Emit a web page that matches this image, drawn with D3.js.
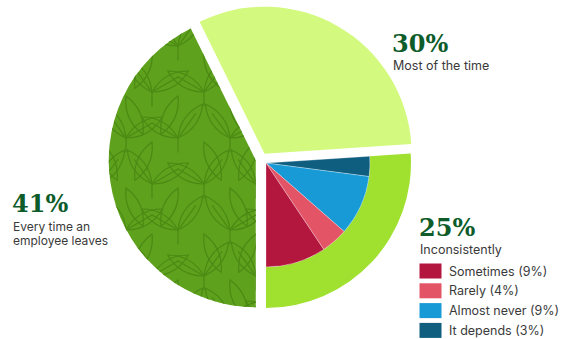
<!DOCTYPE html>
<html>
<head>
<meta charset="utf-8">
<script src="https://cdn.jsdelivr.net/npm/d3@7"></script>
<style>
  body { margin: 0; background: #fff; }
  .pct { font-family: "DejaVu Serif", serif; font-weight: bold; fill: #0d5c2a; }
  .lbl { font-family: Inter, "Noto Sans", sans-serif; fill: #3a3a3a; }
</style>
</head>
<body>
<svg id="chart" width="570" height="339"></svg>
<script>
// Main answer shares (percent)
const categories = ["Inconsistently", "Every time an employee leaves", "Most of the time"];
const shares = [25, 41, 30];
const pctLabels = ["25%", "41%", "30%"];

// Breakdown of "Inconsistently", drawn clockwise inside its slice
const breakdownLabels = ["It depends", "Almost never", "Rarely", "Sometimes"];
const breakdownValues = [3, 9, 4, 9];

// Legend order
const legendOrder = ["Sometimes", "Rarely", "Almost never", "It depends"];

const sliceColors = ["#a0e02f", "#5ea11c", "#d4f97f"];
const breakdownColors = {
  "Sometimes": "#b3173e",
  "Rarely": "#e35466",
  "Almost never": "#179ad6",
  "It depends": "#0f5e80"
};

const svg = d3.select("#chart");
const cx = 261.6, cy = 158.9;
const explode = 6;
const outerR = [145, 147, 147];
const ringInner = 104;

// The "Inconsistently" slice ends exactly at 6 o'clock
const total = d3.sum(shares);
const start = Math.PI - shares[0] / total * 2 * Math.PI;
const pie = d3.pie().sort(null).value(d => d).startAngle(start).endAngle(start + 2 * Math.PI);
const arcs = pie(shares);

const offset = a => {
  const m = (a.startAngle + a.endAngle) / 2;
  return [cx + explode * Math.sin(m), cy - explode * Math.cos(m)];
};

const defs = svg.append("defs");

// Clip for the leaf texture on the large slice
const leftArc = arcs[1];
const [lx, ly] = offset(leftArc);
const leftPath = d3.arc().innerRadius(0).outerRadius(outerR[1])(leftArc);
defs.append("clipPath").attr("id", "leftClip")
  .append("path").attr("d", leftPath).attr("transform", `translate(${lx},${ly})`);

// Slices
arcs.forEach((a, i) => {
  const [ox, oy] = offset(a);
  const g = svg.append("g").attr("transform", `translate(${ox},${oy})`);
  const inner = i === 0 ? ringInner : 0;
  g.append("path")
    .attr("d", d3.arc().innerRadius(inner).outerRadius(outerR[i])(a))
    .attr("fill", sliceColors[i]);
  if (i === 0) {
    const sub = d3.pie().sort(null).value(d => d).startAngle(a.startAngle).endAngle(a.endAngle)(breakdownValues);
    g.selectAll("path.sub").data(sub).join("path")
      .attr("class", "sub")
      .attr("d", d3.arc().innerRadius(0).outerRadius(ringInner))
      .attr("fill", (d, j) => breakdownColors[breakdownLabels[j]])
      .attr("stroke", "rgba(255,255,255,0.6)")
      .attr("stroke-width", 0.5);
  }
});

// Leaf texture: branching leaf outlines over the large slice
const leafG = svg.append("g").attr("clip-path", "url(#leftClip)")
  .attr("fill", "none").attr("stroke", "#4b8914").attr("stroke-width", 1.2)
  .attr("stroke-linecap", "round");
const L = 42, W = 12;
const leafD = `M0,0Q${W},${-L / 2} 0,${-L}Q${-W},${-L / 2} 0,0Z`;
const stepX = 52, stepY = 46;
for (let r = -1; r < 9; r++) {
  for (let c = -1; c < 5; c++) {
    const bx = 100 + c * stepX + (r % 2 ? stepX / 2 : 0);
    const by = r * stepY;
    const tilt = (r + c) % 2 ? 12 : -12;
    // short stem with a pair of leaves
    leafG.append("path").attr("d", `M${bx},${by + 14} L${bx},${by}`);
    [-48, 48].forEach(rot => {
      const lg = leafG.append("g").attr("transform", `translate(${bx},${by}) rotate(${rot + tilt})`);
      lg.append("path").attr("d", leafD);
      lg.append("path").attr("d", `M0,-3 L0,${-L + 12}`);
    });
    // single leaf pointing down between the pairs
    const dg = leafG.append("g").attr("transform", `translate(${bx + stepX / 2},${by + 4}) rotate(${180 + tilt * 2})`);
    dg.append("path").attr("d", leafD);
  }
}

// Percent labels and captions
svg.append("text").attr("class", "pct").attr("x", 392).attr("y", 52).attr("font-size", 24).text(pctLabels[2]);
svg.append("text").attr("class", "lbl").attr("x", 393).attr("y", 70).attr("font-size", 12.5).text(categories[2]);

svg.append("text").attr("class", "pct").attr("x", 12).attr("y", 212).attr("font-size", 24).text(pctLabels[1]);
svg.append("text").attr("class", "lbl").attr("x", 13).attr("y", 230.5).attr("font-size", 12).text("Every time an");
svg.append("text").attr("class", "lbl").attr("x", 13).attr("y", 244.5).attr("font-size", 12).text("employee leaves");

svg.append("text").attr("class", "pct").attr("x", 419).attr("y", 235.5).attr("font-size", 24).text(pctLabels[0]);
svg.append("text").attr("class", "lbl").attr("x", 420).attr("y", 254).attr("font-size", 12.5).text(categories[0]);

// Legend
const leg = svg.append("g").attr("transform", "translate(419.5,263.5)");
legendOrder.forEach((name, i) => {
  const v = breakdownValues[breakdownLabels.indexOf(name)];
  const row = leg.append("g").attr("transform", `translate(0,${i * 19.8})`);
  row.append("rect").attr("width", 22).attr("height", 15).attr("fill", breakdownColors[name]);
  row.append("text").attr("class", "lbl").attr("x", 29.5).attr("y", 12).attr("font-size", 12.5)
    .text(`${name} (${v}%)`);
});
</script>
</body>
</html>
